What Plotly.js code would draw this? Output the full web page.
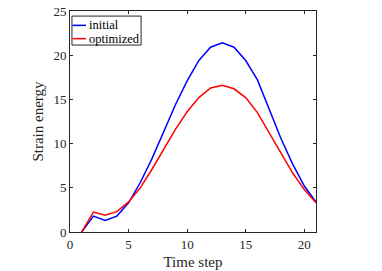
<!DOCTYPE html>
<html><head><meta charset="utf-8">
<script src="https://cdn.plot.ly/plotly-3.0.1.min.js"></script>
<style>html,body{margin:0;padding:0;background:#fff;}#chart{width:382px;height:271px;}</style>
</head><body><div id="chart"></div>
<script>
const timeSteps = [1,2,3,4,5,6,7,8,9,10,11,12,13,14,15,16,17,18,19,20,21];
const initialEnergy = [0,1.8,1.3,1.8,3.3,5.6,8.3,11.4,14.4,17.1,19.4,20.9,21.4,20.9,19.4,17.2,14.0,10.6,7.7,5.2,3.4];
const optimizedEnergy = [0,2.25,1.9,2.3,3.4,5.0,7.1,9.4,11.6,13.6,15.2,16.3,16.6,16.2,15.2,13.5,11.2,9.0,6.7,4.8,3.3];
const seriesNames = ['initial','optimized'];
const seriesColors = ['#0000ff','#ff0000'];
const xTicks = [0,5,10,15,20];
const yTicks = [0,5,10,15,20,25];

const font = {family:'"Liberation Serif", "Times New Roman", serif', size:13, color:'#262626'};
const titleFont = {family:font.family, size:15, color:'#262626'};
const traces = [initialEnergy, optimizedEnergy].map((ys,i)=>({
  x: timeSteps, y: ys, type:'scatter', mode:'lines', name: seriesNames[i],
  line:{color:seriesColors[i], width:1.5}, showlegend:false
}));

const ax = {showgrid:false, zeroline:false, showline:true, linecolor:'#262626', linewidth:1,
  mirror:'ticks', ticks:'inside', ticklen:3, tickcolor:'#262626', tickfont:font};

// manual legend (MATLAB style)
const bx0=0.008, bx1=0.289, by0=0.846, by1=0.977;
const rowY=[0.935, 0.875];
const shapes=[{type:'rect',xref:'paper',yref:'paper',x0:bx0,x1:bx1,y0:by0,y1:by1,line:{color:'#262626',width:1},fillcolor:'#fff'}];
const annotations=[];
seriesNames.forEach((n,i)=>{
  shapes.push({type:'line',xref:'paper',yref:'paper',x0:0.01,x1:0.065,y0:rowY[i],y1:rowY[i],line:{color:seriesColors[i],width:1.5}});
  annotations.push({xref:'paper',yref:'paper',x:0.07,y:rowY[i],xanchor:'left',yanchor:'middle',text:n,showarrow:false,font:{family:font.family,size:12.5,color:'#000'}});
});

const layout = {
  width:382, height:271, margin:{l:70,r:66,t:11,b:39},
  paper_bgcolor:'#fff', plot_bgcolor:'#fff', font:font, showlegend:false,
  xaxis:Object.assign({}, ax, {range:[0,21], tickvals:xTicks, title:{text:'Time step', font:titleFont, standoff:5}}),
  yaxis:Object.assign({}, ax, {range:[0,25], tickvals:yTicks, title:{text:'Strain energy', font:titleFont, standoff:6}}),
  shapes:shapes, annotations:annotations
};
Plotly.newPlot('chart', traces, layout, {staticPlot:true, displayModeBar:false});
</script></body></html>
